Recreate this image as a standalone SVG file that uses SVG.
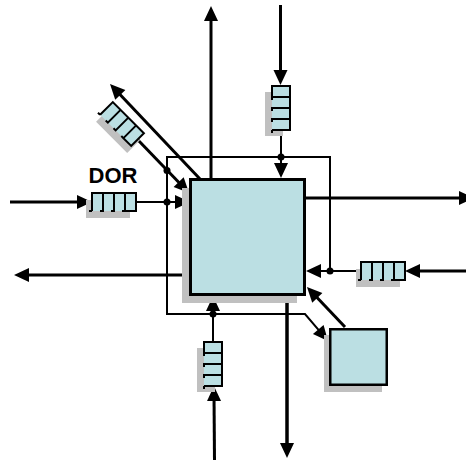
<svg xmlns="http://www.w3.org/2000/svg" xmlns:xlink="http://www.w3.org/1999/xlink" width="466" height="460" viewBox="0 0 466 460">
<style>
.box{fill:#bbdfe3;stroke:#000;}
.shadow{fill:#c0c0c0;stroke:none;}
.thick{fill:none;stroke:#000;stroke-width:3;marker-end:url(#arrow);}
.thin{fill:none;stroke:#000;stroke-width:2;marker-end:url(#arrow);}
.bus{fill:none;stroke:#000;stroke-width:2;}
.dot{fill:#000;}
.fifoline{fill:none;stroke:#000;stroke-width:2;}
.label{font-family:"Liberation Sans",Arial,sans-serif;font-weight:bold;font-size:22px;fill:#000;}
</style>
<defs>
<marker id="arrow" markerUnits="userSpaceOnUse" markerWidth="16" markerHeight="15" refX="7" refY="7" orient="auto" overflow="visible">
<path d="M0,0 L15,7 L0,14 Z" fill="#000"/>
</marker>
<g id="fifo">
<rect x="0" y="0" width="44" height="18" fill="#bbdfe3"/>
<path class="fifoline" d="M0,18 V0 H44 V18 H33 V0 M-3,18 H0 M11,0 V18 H8 M22,0 V18 H19 M33,18 H30"/>
</g>
<rect id="fifoShadow" class="shadow" x="0" y="0" width="44" height="18"/>
</defs>

<g id="connectors">
<path class="bus" d="M330,271 V157 H167 V314 H305 L322.8,334.9" marker-end="url(#arrow)"/>
<line class="thick" x1="211" y1="180" x2="211" y2="14"/>
<line class="thick" x1="280.5" y1="5" x2="280.5" y2="77"/>
<line class="thin" x1="281" y1="130" x2="281" y2="170"/>
<line class="thick" x1="10" y1="202" x2="84" y2="202"/>
<line class="thin" x1="136" y1="202" x2="182" y2="202"/>
<line class="thick" x1="190" y1="275" x2="22" y2="275"/>
<line class="thick" x1="200" y1="179" x2="115.5" y2="89.8"/>
<line class="thick" x1="137.5" y1="139.5" x2="183.5" y2="187.2"/>
<line class="thick" x1="305" y1="198" x2="466" y2="198"/>
<line class="thick" x1="466" y1="271" x2="413" y2="271"/>
<line class="thin" x1="361" y1="271" x2="314" y2="271"/>
<line class="thick" x1="214.5" y1="460" x2="214" y2="394"/>
<line class="thin" x1="213" y1="342" x2="213" y2="304"/>
<line class="thick" x1="287" y1="295" x2="287" y2="450" style="stroke-width:3.5"/>
<line class="thick" x1="345" y1="327" x2="312.5" y2="292.8"/>
<circle class="dot" cx="281" cy="157" r="3.5"/>
<circle class="dot" cx="167" cy="170.5" r="3.5"/>
<circle class="dot" cx="167" cy="202" r="3.5"/>
<circle class="dot" cx="330" cy="271" r="3.5"/>
<circle class="dot" cx="213" cy="314" r="3.5"/>
</g>

<g id="router">
<rect class="shadow" x="182" y="188" width="115" height="115"/>
<rect class="box" x="190.5" y="179.5" width="114" height="115" style="stroke-width:3"/>
</g>

<g id="local-node">
<rect class="shadow" x="324" y="335" width="58" height="57"/>
<rect class="box" x="330.25" y="329.25" width="56.5" height="55.5" style="stroke-width:2.5"/>
</g>

<g id="fifo-dor">
<use xlink:href="#fifoShadow" transform="translate(86,200)"/>
<use xlink:href="#fifo" transform="translate(92,193)"/>
</g>

<g id="fifo-right">
<use xlink:href="#fifoShadow" transform="translate(356,269)"/>
<use xlink:href="#fifo" transform="translate(361,262)"/>
</g>

<g id="fifo-top">
<use xlink:href="#fifoShadow" transform="matrix(0,-1,-1,0,283,136)"/>
<use xlink:href="#fifo" transform="matrix(0,-1,-1,0,290,130)"/>
</g>

<g id="fifo-bottom">
<use xlink:href="#fifoShadow" transform="matrix(0,-1,-1,0,215,392)"/>
<use xlink:href="#fifo" transform="matrix(0,-1,-1,0,222,386)"/>
</g>

<g id="fifo-diagonal">
<use xlink:href="#fifoShadow" transform="translate(118,131) rotate(45) translate(-22,-9)"/>
<use xlink:href="#fifo" transform="translate(122,124) rotate(45) translate(-22,-9)"/>
</g>

<g id="label-dor">
<text class="label" x="113" y="183" text-anchor="middle">DOR</text>
</g>
</svg>
